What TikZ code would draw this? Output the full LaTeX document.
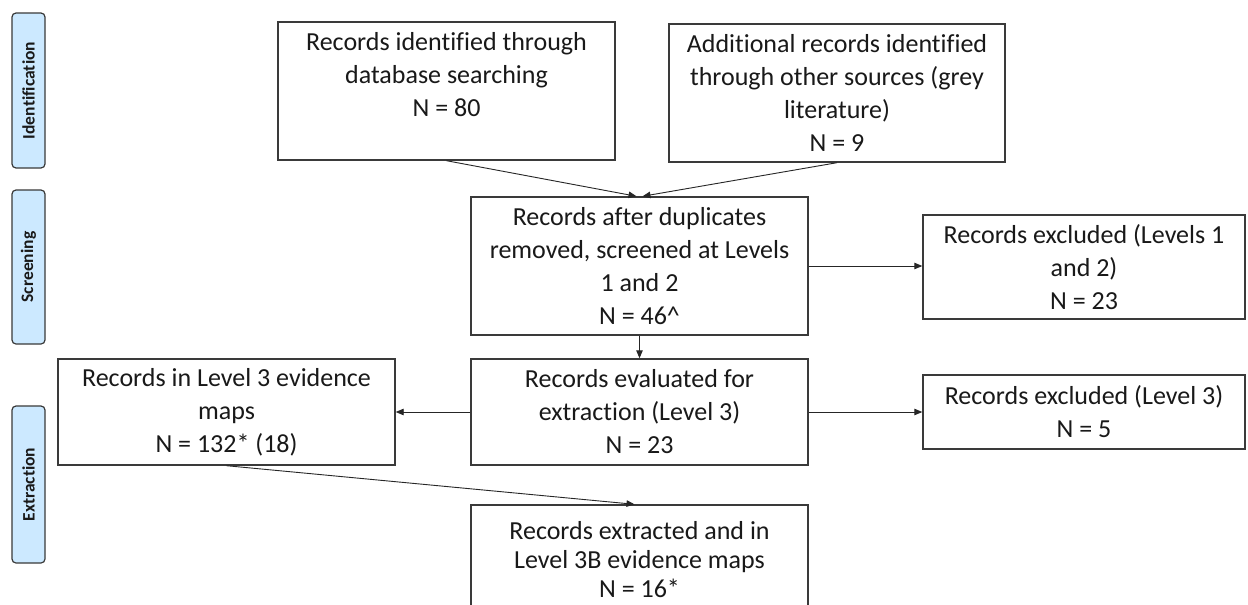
\documentclass[tikz,border=0pt]{standalone}
\usepackage{fontspec}
\setmainfont{Carlito}[Ligatures={NoCommon}]
\usetikzlibrary{arrows.meta,positioning}
\definecolor{lblfill}{HTML}{CCE9FF}
\definecolor{boxline}{HTML}{3A3A3A}
\tikzset{
  flowbox/.style={draw=boxline, line width=1.4pt, align=center, inner sep=2pt,
    font=\fontsize{26}{33}\selectfont, text=black!90},
  phase/.style={draw=boxline, line width=1.2pt, fill=lblfill, rounded corners=4pt,
    minimum width=33pt, font=\fontsize{17.5}{20}\selectfont\bfseries, text=black!90},
  conn/.style={line width=0.9pt, black!85, -{Triangle[length=8pt,width=6.5pt]}},
}
\begin{document}
\begin{tikzpicture}[x=1pt,y=-1pt]
\useasboundingbox (0,0) rectangle (1248,605);
\clip (0,0) rectangle (1248,605);
\fill[white] (0,0) rectangle (1248,605);
% phase labels
\node[phase, minimum height=155pt] (pid) at (28.5,90.5) {\rotatebox{90}{Identification}};
\node[phase, minimum height=154pt] (psc) at (28.5,267) {\rotatebox{90}{Screening}};
\node[phase, minimum height=157pt] (pex) at (28.5,484.5) {\rotatebox{90}{Extraction}};
% boxes
\node[flowbox, minimum width=337pt, minimum height=138pt] (A) at (446.5,91)
  {Records identified through\\database searching\\N = 80\\\mbox{}};
\node[flowbox, minimum width=336pt, minimum height=138pt] (B) at (837,93)
  {Additional records identified\\through other sources (grey\\literature)\\N = 9};
\node[flowbox, minimum width=337pt, minimum height=138pt] (C) at (639.5,266)
  {Records after duplicates\\removed, screened at Levels\\1 and 2\\N = 46\^{}};
\node[flowbox, minimum width=322pt, minimum height=104pt] (D) at (1084,267)
  {Records excluded (Levels 1\\and 2)\\N = 23};
\node[flowbox, minimum width=337pt, minimum height=106pt] (E) at (639.5,412)
  {Records evaluated for\\extraction (Level 3)\\N = 23};
\node[flowbox, minimum width=337pt, minimum height=106pt] (F) at (226.5,412)
  {Records in Level 3 evidence\\maps\\N = 132* (18)};
\node[flowbox, minimum width=322pt, minimum height=74pt] (H) at (1084,412)
  {Records excluded (Level 3)\\N = 5};
\node[flowbox, minimum width=337pt, minimum height=138pt,
  font=\fontsize{26}{29}\selectfont] (G) at (639.5,574)
  {Records extracted and in\\Level 3B evidence maps\\N = 16*\\\mbox{}};
% connectors
\draw[conn] (A.south) -- ([xshift=-3pt]C.north);
\draw[conn] (B.south) -- ([xshift=3pt]C.north);
\draw[conn] (C.east) -- (C.east -| D.west);
\draw[conn] (C.south) -- (E.north);
\draw[conn] (E.west) -- (F.east);
\draw[conn] (E.east) -- (H.west);
\draw[conn] (F.south) -- ([xshift=-5pt]G.north);
\end{tikzpicture}
\end{document}
